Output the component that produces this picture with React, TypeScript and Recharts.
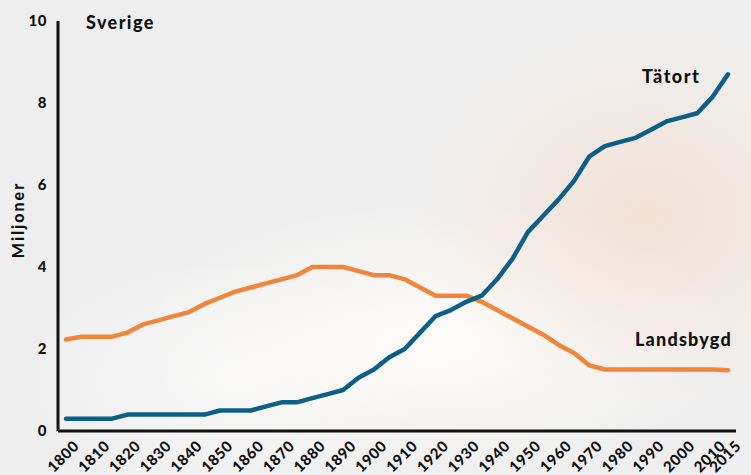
import { LineChart, Line, XAxis, YAxis } from 'recharts';

const years = [
  1800, 1805, 1810, 1815, 1820, 1825, 1830, 1835, 1840, 1845, 1850, 1855, 1860, 1865, 1870,
  1875, 1880, 1885, 1890, 1895, 1900, 1905, 1910, 1915, 1920, 1925, 1930, 1935, 1940, 1945,
  1950, 1955, 1960, 1965, 1970, 1975, 1980, 1985, 1990, 1995, 2000, 2005, 2010, 2015,
];

const tatort = [
  0.3, 0.3, 0.3, 0.3, 0.4, 0.4, 0.4, 0.4, 0.4, 0.4, 0.5, 0.5, 0.5, 0.6, 0.7,
  0.7, 0.8, 0.9, 1.0, 1.3, 1.5, 1.8, 2.0, 2.4, 2.8, 2.95, 3.15, 3.3, 3.7, 4.2,
  4.85, 5.25, 5.65, 6.1, 6.7, 6.95, 7.05, 7.15, 7.35, 7.55, 7.65, 7.75, 8.15, 8.7,
];

const landsbygd = [
  2.23, 2.3, 2.3, 2.3, 2.4, 2.6, 2.7, 2.8, 2.9, 3.1, 3.25, 3.4, 3.5, 3.6, 3.7,
  3.8, 4.0, 4.0, 4.0, 3.9, 3.8, 3.8, 3.7, 3.5, 3.3, 3.3, 3.3, 3.15, 2.95, 2.75,
  2.55, 2.35, 2.1, 1.9, 1.6, 1.5, 1.5, 1.5, 1.5, 1.5, 1.5, 1.5, 1.5, 1.48,
];

const xTicks = [
  1800, 1810, 1820, 1830, 1840, 1850, 1860, 1870, 1880, 1890, 1900, 1910, 1920, 1930, 1940,
  1950, 1960, 1970, 1980, 1990, 2000, 2010, 2015,
];
const yTicks = [0, 2, 4, 6, 8, 10];

const data = years.map((year, i) => ({ year, tatort: tatort[i], landsbygd: landsbygd[i] }));

const FONT = 'Lato, "Open Sans", sans-serif';
const BLUE = '#0d5f87';
const ORANGE = '#f0853b';

function XTick({ x, y, payload }: any) {
  return (
    <text
      x={x + 14}
      y={y + 8}
      transform={`rotate(-45 ${x + 14} ${y + 8})`}
      textAnchor="end"
      fontFamily={FONT}
      fontWeight={900}
      fontSize={15}
      letterSpacing={0.6}
      fill="#111"
    >
      {payload.value}
    </text>
  );
}

function YTick({ x, y, payload }: any) {
  return (
    <text x={x - 3} y={y} dy={5} textAnchor="end" fontFamily={FONT} fontWeight={900} fontSize={15} letterSpacing={0.5} fill="#111">
      {payload.value}
    </text>
  );
}

const labelStyle: React.CSSProperties = {
  position: 'absolute',
  fontFamily: FONT,
  fontWeight: 900,
  color: '#111',
  whiteSpace: 'nowrap',
  lineHeight: 1,
};

export default function App() {
  return (
    <div
      style={{
        position: 'fixed',
        left: 0,
        top: 0,
        width: 751,
        height: 475,
        overflow: 'hidden',
        background:
          'radial-gradient(ellipse 230px 190px at 86% 45%, rgba(246,218,198,0.6), rgba(246,218,198,0) 100%),' +
          'radial-gradient(ellipse 300px 140px at 58% 72%, rgba(255,253,250,0.95), rgba(255,253,250,0) 100%),' +
          'radial-gradient(ellipse 200px 120px at 30% 80%, rgba(250,250,250,0.8), rgba(250,250,250,0) 100%),' +
          '#efefef',
      }}
    >
      <LineChart width={751} height={475} data={data} margin={{ top: 21, right: 15, bottom: 0, left: 0 }}>
        <XAxis
          dataKey="year"
          type="number"
          domain={[1800, 2015]}
          ticks={xTicks}
          interval={0}
          padding={{ left: 8, right: 8 }}
          axisLine={{ stroke: '#111', strokeWidth: 3 }}
          tickLine={false}
          tick={<XTick />}
          height={44}
        />
        <YAxis
          type="number"
          domain={[0, 10]}
          ticks={yTicks}
          interval={0}
          width={58}
          axisLine={{ stroke: '#111', strokeWidth: 3 }}
          tickLine={false}
          tick={<YTick />}
        />
        <Line
          dataKey="landsbygd"
          type="linear"
          stroke={ORANGE}
          strokeWidth={4.5}
          strokeLinecap="round"
          strokeLinejoin="round"
          dot={false}
          isAnimationActive={false}
        />
        <Line
          dataKey="tatort"
          type="linear"
          stroke={BLUE}
          strokeWidth={4.5}
          strokeLinecap="round"
          strokeLinejoin="round"
          dot={false}
          isAnimationActive={false}
        />
      </LineChart>
      <div style={{ ...labelStyle, left: 86, top: 13, fontSize: 18, letterSpacing: 1.4 }}>Sverige</div>
      <div style={{ ...labelStyle, left: 642, top: 67, fontSize: 18, letterSpacing: 1.5 }}>Tätort</div>
      <div style={{ ...labelStyle, left: 635, top: 330, fontSize: 18, letterSpacing: 1.2 }}>Landsbygd</div>
      <div
        style={{
          ...labelStyle,
          left: 18,
          top: 220,
          fontSize: 16,
          letterSpacing: 2,
          transform: 'translate(-50%, -50%) rotate(-90deg)',
        }}
      >
        Miljoner
      </div>
    </div>
  );
}
